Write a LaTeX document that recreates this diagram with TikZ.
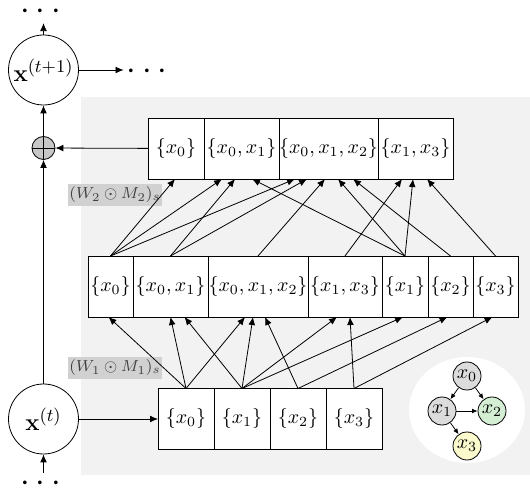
\documentclass[tikz,border=0pt]{standalone}
\usepackage{amsmath}
\usepackage{amssymb}
\usetikzlibrary{arrows.meta, positioning, shapes}

\definecolor{varfill}{RGB}{220,220,220}
\definecolor{grnfill}{RGB}{212,238,212}
\definecolor{ylwfill}{RGB}{250,250,204}

\begin{document}
\begin{tikzpicture}[x=0.5pt, y=-0.5pt, >={Latex[length=4pt, width=3.4pt]},
  set/.style   = {draw, rectangle, fill=white, outer sep=0pt, inner xsep=0pt, minimum height=30.5pt},
  unit/.style  = {set, minimum width=28pt},
  state/.style = {draw, circle, fill=white, minimum size=35pt, inner sep=0pt, font=\fontsize{13}{15}\selectfont},
  sum/.style   = {draw, circle, fill=black!22, minimum size=11.5pt, inner sep=0pt,
                  path picture={\draw (path picture bounding box.north) -- (path picture bounding box.south)
                                      (path picture bounding box.west)  -- (path picture bounding box.east);}},
  var/.style   = {draw, circle, minimum size=14pt, inner sep=0pt},
  lab/.style   = {fill=black!18, text=black!75, inner xsep=0.5pt, inner ysep=1.5pt, font=\fontsize{8.5}{10}\selectfont},
  more/.style  = {inner sep=1.5pt, font=\LARGE}
]

\useasboundingbox (0,0) rectangle (530,491);
\fill [black!5 ] (81,97) rectangle (530,475);
\fill [white   ] (467,410) ellipse [x radius=29pt, y radius=26.5pt];

\node [state                                       ] at (43.5, 70 ) (c1) {$\mathbf{x}^{(t+1)}$};
\node [state                                       ] at (43.5, 419) (c0) {$\mathbf{x}^{(t)}$};
\node [sum                                         ] at (43.5, 148) (s1) {};
\node [more                                        ] at (43.5, 12 ) (d1) {$\cdots$};
\node [more                                        ] at (150 , 72 ) (d2) {$\cdots$};
\node [more                                        ] at (43.5, 484) (d3) {$\cdots$};

\node [unit, anchor=west                           ] at (148, 148.5) (t0) {$\{x_0\}$};
\node [set , right=0pt of t0, minimum width=37.5pt ] (t1) {$\{x_0, x_1\}$};
\node [set , right=0pt of t1, minimum width=49.5pt ] (t2) {$\{x_0, x_1, x_2\}$};
\node [set , right=0pt of t2, minimum width=37.5pt ] (t3) {$\{x_1, x_3\}$};

\node [set , anchor=west    , minimum width=22.5pt ] at (88 , 286.5) (m0) {$\{x_0\}$};
\node [set , right=0pt of m0, minimum width=37.5pt ] (m1) {$\{x_0, x_1\}$};
\node [set , right=0pt of m1, minimum width=50pt   ] (m2) {$\{x_0, x_1, x_2\}$};
\node [set , right=0pt of m2, minimum width=37pt   ] (m3) {$\{x_1, x_3\}$};
\node [set , right=0pt of m3, minimum width=23pt   ] (m4) {$\{x_1\}$};
\node [set , right=0pt of m4, minimum width=22.5pt ] (m5) {$\{x_2\}$};
\node [set , right=0pt of m5, minimum width=22.5pt ] (m6) {$\{x_3\}$};

\node [unit, anchor=west                           ] at (158, 419) (b0) {$\{x_0\}$};
\node [unit, right=0pt of b0                       ] (b1) {$\{x_1\}$};
\node [unit, right=0pt of b1                       ] (b2) {$\{x_2\}$};
\node [unit, right=0pt of b2                       ] (b3) {$\{x_3\}$};

\node [lab                                         ] at (115, 195) (w2) {$(W_2 \odot M_2)_s$};
\node [lab                                         ] at (115, 368) (w1) {$(W_1 \odot M_1)_s$};

\node [var, fill=varfill                           ] at (467, 376) (g0) {$x_0$};
\node [var, fill=varfill                           ] at (442, 411) (g1) {$x_1$};
\node [var, fill=grnfill                           ] at (492, 411) (g2) {$x_2$};
\node [var, fill=ylwfill                           ] at (467, 446) (g3) {$x_3$};

\path [draw, ->] (c1) -- (d1);
\path [draw, ->] (c1) -- (c1 -| d2.west);
\path [draw, ->] (s1) -- (c1);
\path [draw, ->] (c0) -- (s1);
\path [draw, ->] (d3) -- (c0);
\path [draw, ->] (t0) -- (s1);
\path [draw, ->] (c0) -- (b0);

% inputs -> first layer
\path [draw, ->] (b0.north) -- ([xshift=-1pt    ]m0.south);
\path [draw, ->] (b0.north) -- ([xshift=0pt     ]m1.south);
\path [draw, ->] (b1.north) -- ([xshift=7pt     ]m1.south);
\path [draw, ->] (b0.north) -- ([xshift=-6.5pt  ]m2.south);
\path [draw, ->] (b1.north) -- ([xshift=-2.5pt  ]m2.south);
\path [draw, ->] (b2.north) -- ([xshift=3.5pt   ]m2.south);
\path [draw, ->] (b1.north) -- ([xshift=-4pt    ]m3.south);
\path [draw, ->] (b3.north) -- ([xshift=2.5pt   ]m3.south);
\path [draw, ->] (b1.north) -- ([xshift=-1pt    ]m4.south);
\path [draw, ->] (b2.north) -- ([xshift=-1.5pt  ]m5.south);
\path [draw, ->] (b3.north) -- ([xshift=-1.5pt  ]m6.south);

% first layer -> second layer
\path [draw, ->] (m0.north) -- ([xshift=-0.5pt  ]t0.south);
\path [draw, ->] (m0.north) -- ([xshift=-9.75pt ]t1.south);
\path [draw, ->] (m1.north) -- ([xshift=-3.25pt ]t1.south);
\path [draw, ->] (m4.north) -- ([xshift=5.25pt  ]t1.south);
\path [draw, ->] (m0.north) -- ([xshift=-16.75pt]t2.south);
\path [draw, ->] (m1.north) -- ([xshift=-10.75pt]t2.south);
\path [draw, ->] (m2.north) -- ([xshift=-1.75pt ]t2.south);
\path [draw, ->] (m4.north) -- ([xshift=4.75pt  ]t2.south);
\path [draw, ->] (m5.north) -- ([xshift=12.25pt ]t2.south);
\path [draw, ->] (m3.north) -- ([xshift=-6.75pt ]t3.south);
\path [draw, ->] (m4.north) -- ([xshift=-1.25pt ]t3.south);
\path [draw, ->] (m6.north) -- ([xshift=5.75pt  ]t3.south);

% graph
\path [draw, -{Latex[length=2.8pt, width=2.4pt]}] (g0) -- (g1);
\path [draw, -{Latex[length=2.8pt, width=2.4pt]}] (g0) -- (g2);
\path [draw, -{Latex[length=2.8pt, width=2.4pt]}] (g1) -- (g2);
\path [draw, -{Latex[length=2.8pt, width=2.4pt]}] (g1) -- (g3);

\end{tikzpicture}
\end{document}
